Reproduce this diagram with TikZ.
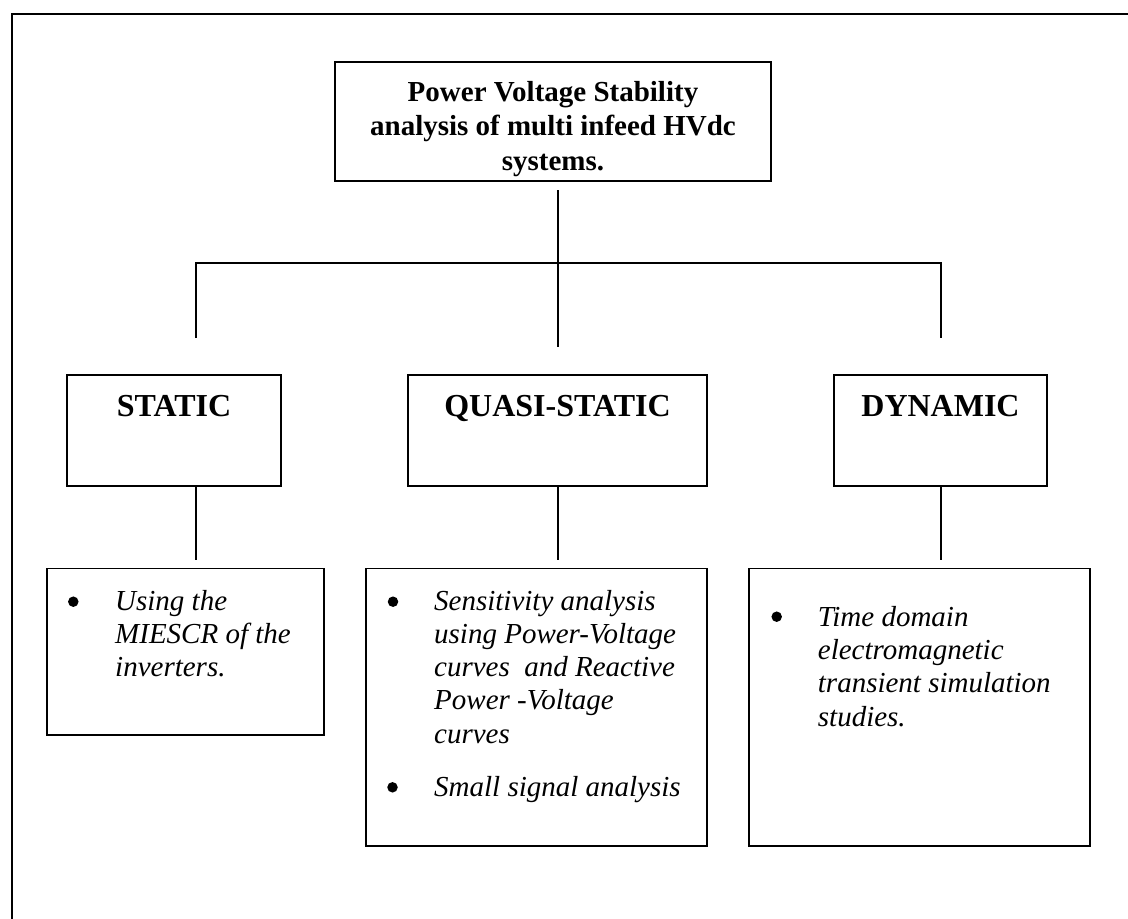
\documentclass[tikz,border=0pt]{standalone}
\usepackage{fontspec}
\setmainfont{Liberation Serif}
\begin{document}
\begin{tikzpicture}[x=1pt,y=-1pt,
  box/.style={draw, line width=1.5pt, rectangle, inner sep=0pt},
  conn/.style={line width=1.5pt},
  frame/.style={line width=2.4pt},
  title/.style={font=\fontsize{29}{34.5}\selectfont\bfseries, align=center, inner sep=0pt, anchor=base},
  level/.style={font=\fontsize{32}{38}\selectfont\bfseries, inner sep=0pt, anchor=base},
  item/.style={font=\fontsize{29}{33.3}\selectfont\itshape, align=left, inner sep=0pt, anchor=base west},
  dot/.style={circle, fill=black, minimum size=10.5pt, inner sep=0pt}
]
\clip (0,0) rectangle (1128,919);
\draw[frame] (12,14) rectangle (1170,970);

% boxes
\node[box, minimum width=436pt, minimum height=119pt] (top) at (553,121.5) {};
\node[box, minimum width=214pt, minimum height=111pt] (static) at (174,430.5) {};
\node[box, minimum width=299pt, minimum height=111pt] (quasi) at (557.5,430.5) {};
\node[box, minimum width=213pt, minimum height=111pt] (dynamic) at (940.5,430.5) {};
\node[box, minimum width=277pt, minimum height=166.5pt] (sbul) at (185.5,651.75) {};
\node[box, minimum width=341pt, minimum height=277.5pt] (qbul) at (536.5,707.25) {};
\node[box, minimum width=341pt, minimum height=277.5pt] (dbul) at (919.5,707.25) {};

% texts (anchor base = baseline of the last line)
\node[title] (toptext) at (553,170) {Power Voltage Stability\\analysis of multi infeed HVdc\\systems.};
\node[level] (stext) at (174,416.5) {STATIC};
\node[level] (qtext) at (557.5,416.5) {QUASI-STATIC};
\node[level] (dtext) at (940.5,416.5) {DYNAMIC};

\node[dot] (sb1) at (73.3,601.7) {};
\node[item] (si1) at (115,676.6) {Using the\\MIESCR of the\\inverters.};

\node[dot] (qb1) at (393,601.7) {};
\node[item] (qi1) at (434,743.2) {Sensitivity analysis\\using Power-Voltage\\curves~ and Reactive\\Power -Voltage\\curves};
\node[dot] (qb2) at (392.5,787.3) {};
\node[item] (qi2) at (434,796) {Small signal analysis};

\node[dot] (db1) at (776.7,616.7) {};
\node[item] (di1) at (817.7,726) {Time domain\\electromagnetic\\transient simulation\\studies.};

% connectors
\coordinate (hubtop) at (558,190);
\coordinate (hubbot) at (558,347);
\coordinate (lefttop) at (196,263);
\coordinate (leftend) at (196,338);
\coordinate (righttop) at (941,263);
\coordinate (rightend) at (941,338);
\draw[conn] (hubtop) -- (hubbot);
\draw[conn] (leftend) -- (lefttop) -- (righttop) -- (rightend);
\coordinate (sdown) at (196,560);
\coordinate (qdown) at (558,560);
\coordinate (ddown) at (941,560);
\draw[conn] (sdown |- static.south) -- (sdown);
\draw[conn] (qdown |- quasi.south) -- (qdown);
\draw[conn] (ddown |- dynamic.south) -- (ddown);
\end{tikzpicture}
\end{document}
